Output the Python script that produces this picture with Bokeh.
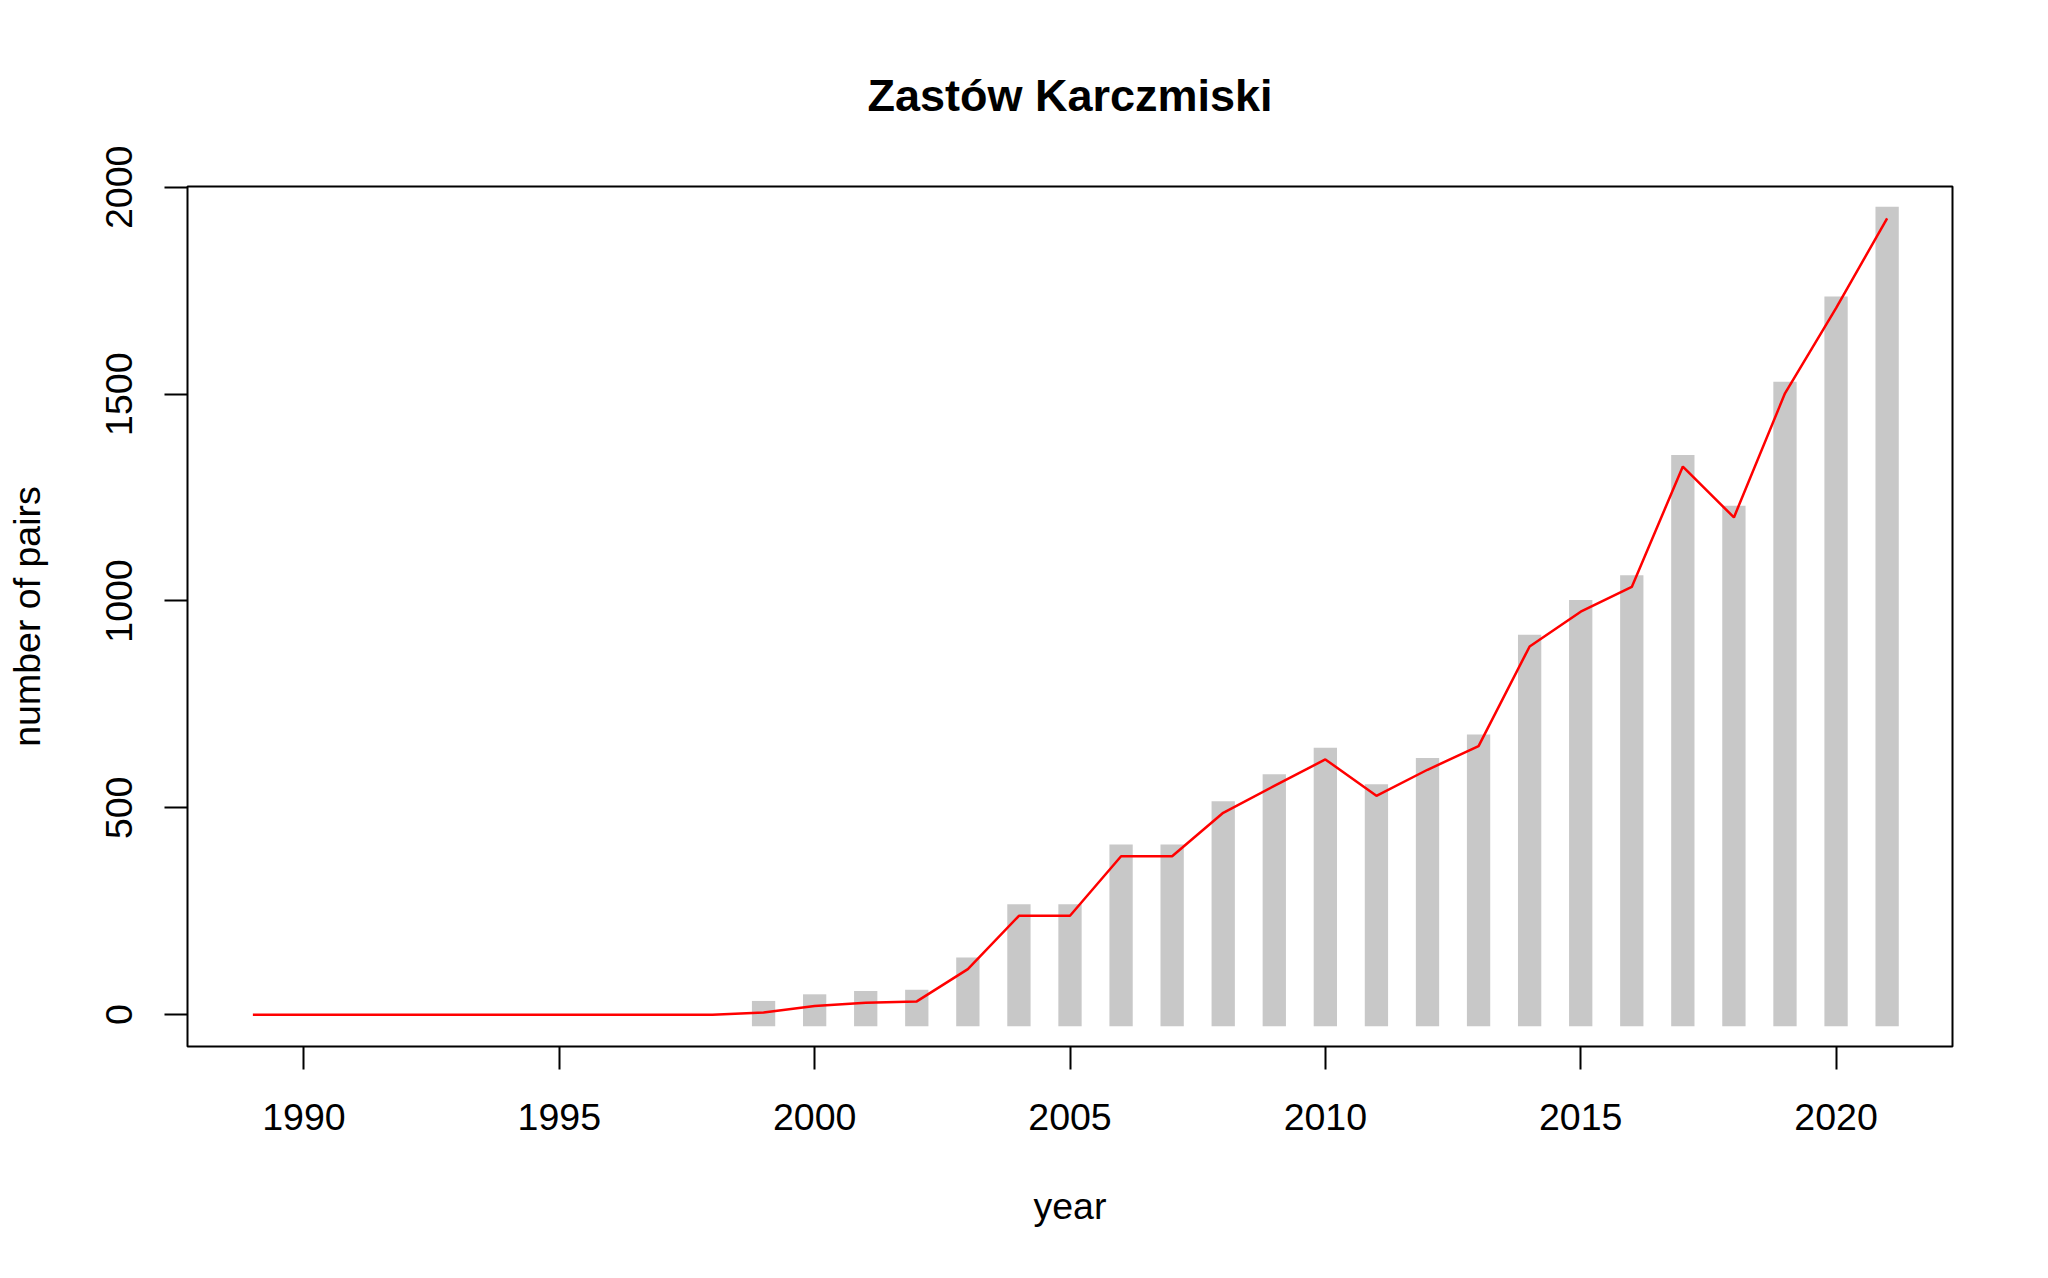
from bokeh.plotting import figure
from bokeh.models import Range1d, FixedTicker
from bokeh.embed import file_html
from bokeh.resources import INLINE

# ---- data ----
years = list(range(1989, 2022))
pairs = [0, 0, 0, 0, 0, 0, 0, 0, 0, 0,
         5, 21, 29, 32, 110, 239, 239, 383, 383, 488,
         553, 617, 529, 592, 649, 890, 974, 1034, 1325, 1202,
         1502, 1708, 1925]
x_ticks = [1990, 1995, 2000, 2005, 2010, 2015, 2020]
y_ticks = [0, 500, 1000, 1500, 2000]
title_text = "Zastów Karczmiski"
x_label = "year"
y_label = "number of pairs"

bar_years = [y for y, v in zip(years, pairs) if v > 0]
bar_vals = [v for v in pairs if v > 0]

FONT = "Liberation Sans"

# R-style 4% axis extension
xr = max(years) - min(years)
yr = max(pairs) - min(pairs)
x_range = Range1d(min(years) - 0.04 * xr, max(years) + 0.04 * xr)
y_range = Range1d(min(pairs) - 0.04 * yr, max(pairs) + 0.04 * yr)

W, H = 2032, 1262
p = figure(width=W, height=H, x_range=x_range, y_range=y_range,
           output_backend="svg", toolbar_location=None,
           min_border_left=187, min_border_right=80,
           min_border_top=186, min_border_bottom=216)

p.background_fill_color = "white"
p.border_fill_color = "white"
p.outline_line_color = "black"
p.outline_line_width = 2
p.grid.visible = False

# bars (thick segments with square caps) and line
p.segment(x0=bar_years, y0=[0] * len(bar_years), x1=bar_years, y1=bar_vals,
          line_width=23.3, line_cap="square", line_color="#c8c8c8")
p.line(years, pairs, line_color="red", line_width=2.5)

# title
p.title.text = title_text
p.title.align = "center"
p.title.text_font = FONT
p.title.text_font_size = "45px"
p.title.text_font_style = "bold"
p.title.text_color = "black"
p.title.standoff = 131

for ax in (p.xaxis[0], p.yaxis[0]):
    ax.axis_line_color = None
    ax.major_tick_line_color = "black"
    ax.major_tick_line_width = 2
    ax.major_tick_out = 23
    ax.major_tick_in = 0
    ax.minor_tick_line_color = None
    ax.major_label_text_font = FONT
    ax.major_label_text_font_size = "37.5px"
    ax.major_label_text_color = "black"
    ax.axis_label_text_font = FONT
    ax.axis_label_text_font_size = "37.5px"
    ax.axis_label_text_font_style = "normal"
    ax.axis_label_text_color = "black"

p.xaxis[0].ticker = FixedTicker(ticks=x_ticks)
p.yaxis[0].ticker = FixedTicker(ticks=y_ticks)
p.xaxis[0].axis_label = x_label
p.yaxis[0].axis_label = y_label
p.xaxis[0].major_label_standoff = 34
p.yaxis[0].major_label_standoff = 32
p.yaxis[0].major_label_orientation = "vertical"
p.xaxis[0].axis_label_standoff = 52
p.yaxis[0].axis_label_standoff = 56

open("out.html", "w").write(file_html(p, INLINE))
